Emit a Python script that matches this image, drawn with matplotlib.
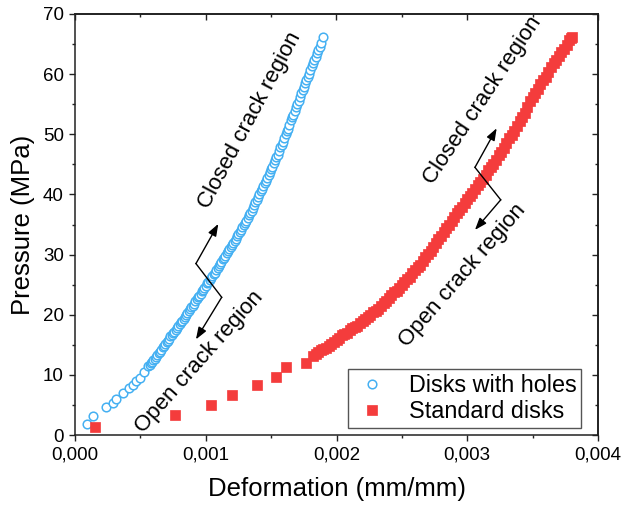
import matplotlib
matplotlib.use("Agg")
import matplotlib.pyplot as plt
from matplotlib.ticker import MultipleLocator, FuncFormatter

plt.rcParams['font.family'] = ['Liberation Sans', 'DejaVu Sans']

# ---- data ----
holes_x = [0.000094, 0.00014, 0.00024, 0.00029, 0.00031, 0.00037, 0.00041, 0.00044,
           0.00047, 0.00050, 0.00053, 0.00056, 0.00057, 0.00058, 0.00059, 0.00060,
           0.00061, 0.00062, 0.00063, 0.00064, 0.00065, 0.00066, 0.00067, 0.00068,
           0.00069, 0.00070, 0.00071, 0.00072, 0.00073, 0.00074, 0.00075, 0.00076,
           0.00077, 0.00078, 0.00079, 0.00080, 0.00081, 0.00082, 0.00083, 0.00084,
           0.00085, 0.00086, 0.00087, 0.00088, 0.00089, 0.00090, 0.00091, 0.00092,
           0.00093, 0.00094, 0.00095, 0.00096, 0.00097, 0.00098, 0.00099, 0.00100,
           0.00101, 0.00102, 0.00103, 0.00104, 0.00105, 0.00106, 0.00107, 0.00108,
           0.00109, 0.00110, 0.00111, 0.00112, 0.00113, 0.00114, 0.00115, 0.00116,
           0.00117, 0.00118, 0.00119, 0.00120, 0.00121, 0.00122, 0.00123, 0.00124,
           0.00125, 0.00126, 0.00127, 0.00128, 0.00129, 0.00130, 0.00131, 0.00132,
           0.00133, 0.00134, 0.00135, 0.00136, 0.00137, 0.00138, 0.00139, 0.00140,
           0.00141, 0.00142, 0.00143, 0.00144, 0.00145, 0.00146, 0.00147, 0.00148,
           0.00149, 0.00150, 0.00151, 0.00152, 0.00153, 0.00154, 0.00155, 0.00156,
           0.00157, 0.00158, 0.00159, 0.00160, 0.00161, 0.00162, 0.00163, 0.00164,
           0.00165, 0.00166, 0.00167, 0.00168, 0.00169, 0.00170, 0.00171, 0.00172,
           0.00173, 0.00174, 0.00175, 0.00176, 0.00177, 0.00178, 0.00179, 0.00180,
           0.00181, 0.00182, 0.00183, 0.00184, 0.00185, 0.00186, 0.00187, 0.00188,
           0.00190]
holes_y = [1.8, 3.2, 4.6, 5.3, 6.0, 7.0, 7.8, 8.3,
           8.9, 9.5, 10.5, 11.5, 11.6, 11.9, 12.2, 12.4,
           12.7, 13.0, 13.3, 13.6, 13.8, 14.2, 14.6, 14.8,
           15.1, 15.4, 15.7, 16.0, 16.4, 16.6, 16.9, 17.2,
           17.5, 17.8, 18.1, 18.4, 18.8, 19.0, 19.3, 19.7,
           20.0, 20.3, 20.6, 20.9, 21.3, 21.5, 21.8, 22.2,
           22.6, 22.9, 23.1, 23.5, 23.9, 24.1, 24.4, 24.8,
           25.2, 25.5, 25.8, 26.1, 26.5, 26.8, 27.0, 27.4,
           27.8, 28.1, 28.4, 28.8, 29.2, 29.5, 29.8, 30.2,
           30.6, 30.9, 31.2, 31.6, 32.0, 32.3, 32.6, 33.1,
           33.5, 33.8, 34.1, 34.6, 35.0, 35.3, 35.6, 36.1,
           36.5, 36.9, 37.3, 37.8, 38.3, 38.7, 39.1, 39.6,
           40.1, 40.5, 40.9, 41.4, 41.9, 42.3, 42.7, 43.3,
           43.8, 44.2, 44.6, 45.2, 45.8, 46.2, 46.6, 47.3,
           47.9, 48.3, 48.8, 49.4, 50.0, 50.5, 50.9, 51.6,
           52.3, 52.8, 53.2, 53.9, 54.6, 55.1, 55.5, 56.2,
           56.8, 57.3, 57.8, 58.5, 59.1, 59.6, 60.0, 60.7,
           61.3, 61.8, 62.3, 62.9, 63.5, 64.0, 64.5, 65.2,
           66.2]

std_x = [0.000153, 0.000765, 0.00104, 0.00120, 0.00139, 0.00154, 0.00161, 0.00177,
         0.00182, 0.00184, 0.00186, 0.00188, 0.00190, 0.00192, 0.00194, 0.00196,
         0.00198, 0.00200, 0.00202, 0.00204, 0.00206, 0.00208, 0.00210, 0.00212,
         0.00214, 0.00216, 0.00218, 0.00220, 0.00222, 0.00224, 0.00226, 0.00228,
         0.00230, 0.00232, 0.00234, 0.00236, 0.00238, 0.00240, 0.00242, 0.00244,
         0.00246, 0.00248, 0.00250, 0.00252, 0.00254, 0.00256, 0.00258, 0.00260,
         0.00262, 0.00264, 0.00266, 0.00268, 0.00270, 0.00272, 0.00274, 0.00276,
         0.00278, 0.00280, 0.00282, 0.00284, 0.00286, 0.00288, 0.00290, 0.00292,
         0.00294, 0.00296, 0.00298, 0.00300, 0.00302, 0.00304, 0.00306, 0.00308,
         0.00310, 0.00312, 0.00314, 0.00316, 0.00318, 0.00320, 0.00322, 0.00324,
         0.00326, 0.00328, 0.00330, 0.00332, 0.00334, 0.00336, 0.00338, 0.00340,
         0.00342, 0.00344, 0.00346, 0.00348, 0.00350, 0.00352, 0.00354, 0.00356,
         0.00358, 0.00360, 0.00362, 0.00364, 0.00366, 0.00368, 0.00370, 0.00372,
         0.00374, 0.00376, 0.00378, 0.00379, 0.00380]
std_y = [1.4, 3.4, 5.0, 6.65, 8.3, 9.7, 11.3, 12.0,
         13.2, 13.4, 13.8, 14.2, 14.3, 14.5, 14.8, 15.2,
         15.5, 15.8, 16.2, 16.6, 16.8, 17.0, 17.4, 17.8,
         18.0, 18.2, 18.6, 19.0, 19.3, 19.6, 20.0, 20.4,
         20.7, 21.0, 21.5, 22.0, 22.3, 22.7, 23.2, 23.7,
         24.0, 24.4, 24.9, 25.5, 25.9, 26.3, 26.9, 27.5,
         27.9, 28.3, 29.0, 29.6, 30.1, 30.6, 31.3, 32.0,
         32.6, 33.1, 33.8, 34.5, 35.0, 35.5, 36.2, 36.9,
         37.4, 37.9, 38.6, 39.3, 39.8, 40.3, 40.9, 41.6,
         42.1, 42.6, 43.3, 44.0, 44.6, 45.1, 45.8, 46.6,
         47.1, 47.7, 48.5, 49.3, 49.9, 50.5, 51.3, 52.2,
         52.9, 53.6, 54.6, 55.5, 56.2, 56.8, 57.6, 58.4,
         59.0, 59.6, 60.4, 61.2, 61.8, 62.3, 63.0, 63.7,
         64.2, 64.8, 65.6, 66.0, 66.2]

series_labels = ["Disks with holes", "Standard disks"]
x_label = "Deformation (mm/mm)"
y_label = "Pressure (MPa)"

blue = '#45b0f2'
red = '#f43c3c'

fig = plt.figure(figsize=(6.26, 5.16), dpi=100)
ax = fig.add_axes([75/626, 1-435/516, (598-75)/626, (435-14)/516])

ax.plot(holes_x, holes_y, linestyle='none', marker='o', markersize=6.2,
        markerfacecolor='white', markeredgecolor=blue, markeredgewidth=1.1,
        label=series_labels[0])
ax.plot(std_x, std_y, linestyle='none', marker='s', markersize=6.8,
        markerfacecolor=red, markeredgecolor=red, markeredgewidth=0.5,
        label=series_labels[1])

ax.set_xlim(0, 0.004)
ax.set_ylim(0, 70)
ax.xaxis.set_major_locator(MultipleLocator(0.001))
ax.xaxis.set_minor_locator(MultipleLocator(0.0005))
ax.yaxis.set_major_locator(MultipleLocator(10))
ax.yaxis.set_minor_locator(MultipleLocator(5))
ax.xaxis.set_major_formatter(FuncFormatter(lambda v, p: f"{v:.3f}".replace('.', ',')))

for s in ax.spines.values():
    s.set_linewidth(1.1)
    s.set_color('#222222')

ax.tick_params(which='major', direction='out', length=4, width=1.0, labelsize=13.5,
               colors='#222222', labelcolor='black', pad=4)
ax.tick_params(which='minor', direction='out', length=2.5, width=1.0, colors='#222222')

secx = ax.secondary_xaxis('top')
secx.xaxis.set_major_locator(MultipleLocator(0.001))
secx.xaxis.set_minor_locator(MultipleLocator(0.0005))
secx.tick_params(which='major', direction='in', length=4, width=1.0, labeltop=False, colors='#222222')
secx.tick_params(which='minor', direction='in', length=2.5, width=1.0, colors='#222222')
secx.spines['top'].set_linewidth(1.1)
secy = ax.secondary_yaxis('right')
secy.yaxis.set_major_locator(MultipleLocator(10))
secy.yaxis.set_minor_locator(MultipleLocator(5))
secy.tick_params(which='major', direction='in', length=4, width=1.0, labelright=False, colors='#222222')
secy.tick_params(which='minor', direction='in', length=2.5, width=1.0, colors='#222222')
secy.spines['right'].set_linewidth(1.1)

ax.set_xlabel(x_label, fontsize=18.5, labelpad=10)
ax.set_ylabel(y_label, fontsize=18.5, labelpad=6)

# annotations
fs = 16
ax.text(0.001339, 52.4, "Closed crack region", rotation=62, ha='center', va='center',
        rotation_mode='anchor', fontsize=fs)
ax.text(0.000948, 12.2, "Open crack region", rotation=48.5, ha='center', va='center',
        rotation_mode='anchor', fontsize=fs)
ax.text(0.003117, 55.7, "Closed crack region", rotation=56.4, ha='center', va='center',
        rotation_mode='anchor', fontsize=fs)
ax.text(0.002964, 26.6, "Open crack region", rotation=49.1, ha='center', va='center',
        rotation_mode='anchor', fontsize=fs)

arrow_kw = dict(arrowstyle='-|>,head_length=0.6,head_width=0.22', color='black', lw=1.0,
                mutation_scale=12, shrinkA=0, shrinkB=0)
# blue bracket
ax.plot([0.000925, 0.001122], [28.5, 22.9], color='black', lw=1.0)
ax.annotate('', xy=(0.001096, 35.1), xytext=(0.000925, 28.5), arrowprops=arrow_kw)
ax.annotate('', xy=(0.000925, 15.9), xytext=(0.001122, 22.9), arrowprops=arrow_kw)
# red bracket
ax.plot([0.003059, 0.003256], [44.5, 39.1], color='black', lw=1.0)
ax.annotate('', xy=(0.003225, 51.0), xytext=(0.003059, 44.5), arrowprops=arrow_kw)
ax.annotate('', xy=(0.003059, 34.1), xytext=(0.003256, 39.1), arrowprops=arrow_kw)

leg = ax.legend(loc='lower right', bbox_to_anchor=(0.968, 0.017), fontsize=16.8,
                frameon=True, fancybox=False, edgecolor='#555555', framealpha=1,
                handletextpad=0.8, borderpad=0.2, labelspacing=0.15,
                handlelength=1.6, borderaxespad=0)
leg.get_frame().set_linewidth(1.0)

fig.savefig('out.png', dpi=100)
